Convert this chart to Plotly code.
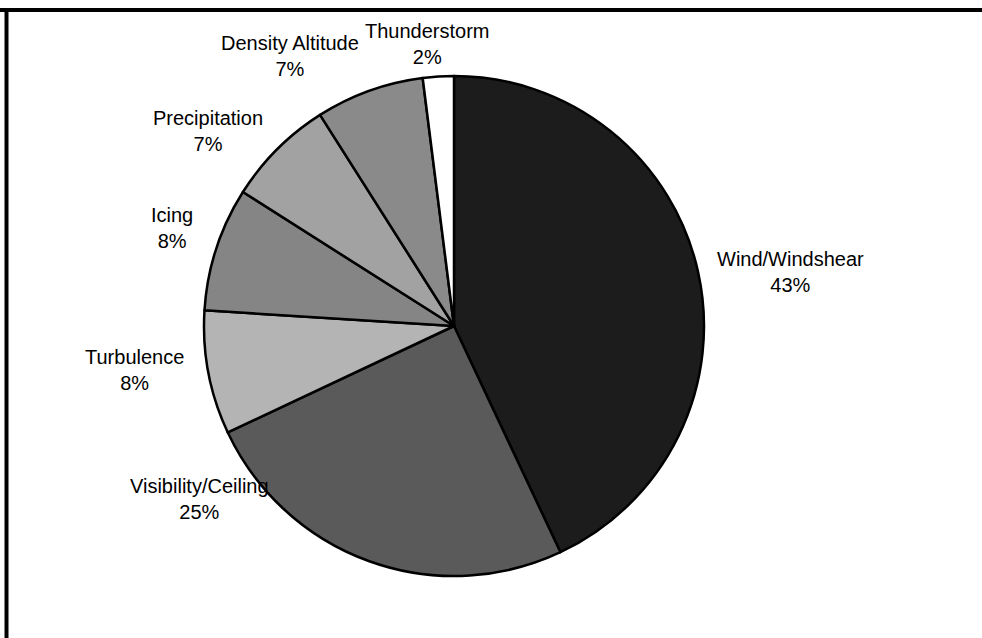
import plotly.graph_objects as go

# Data
categories = ["Wind/Windshear", "Visibility/Ceiling", "Turbulence", "Icing",
              "Precipitation", "Density Altitude", "Thunderstorm"]
shares = [43, 25, 8, 8, 7, 7, 2]
colors = ["#1c1c1c", "#5a5a5a", "#b4b4b4", "#858585", "#a2a2a2", "#8a8a8a", "#ffffff"]

# label centre positions (pixels in the 982x638 canvas)
label_px = [(790, 272), (199, 499), (134, 370), (172, 228),
            (208, 131), (290, 56), (427, 44)]

W, H = 982, 638
cx, cy, r = 454, 326, 250

fig = go.Figure(go.Pie(
    labels=categories,
    values=shares,
    sort=False,
    direction="clockwise",
    rotation=0,
    textinfo="none",
    hoverinfo="label+percent",
    marker=dict(colors=colors, line=dict(color="#000000", width=2.5)),
    domain=dict(x=[(cx - r) / W, (cx + r) / W],
                y=[(H - cy - r) / H, (H - cy + r) / H]),
    showlegend=False,
))

annotations = []
for name, val, (px, py) in zip(categories, shares, label_px):
    annotations.append(dict(
        x=px / W, y=1 - py / H, xref="paper", yref="paper",
        text=f"{name}<br>{val}%", showarrow=False,
        xanchor="center", yanchor="middle", align="center",
        font=dict(family="Liberation Sans, Arial, sans-serif", size=20, color="#000000"),
    ))

shapes = [
    # top frame line
    dict(type="line", xref="paper", yref="paper", x0=0, x1=1,
         y0=1 - 10 / H, y1=1 - 10 / H, line=dict(color="#000000", width=4)),
    # left frame line
    dict(type="line", xref="paper", yref="paper", x0=6.5 / W, x1=6.5 / W,
         y0=0, y1=1 - 8 / H, line=dict(color="#000000", width=4)),
]

fig.update_layout(
    width=W, height=H,
    margin=dict(l=0, r=0, t=0, b=0),
    paper_bgcolor="#ffffff",
    plot_bgcolor="#ffffff",
    annotations=annotations,
    shapes=shapes,
)

fig.write_html("out.html",
               config={"displayModeBar": False},
               post_script="document.body.style.margin='0';document.body.style.padding='0';document.body.style.overflow='hidden';")
